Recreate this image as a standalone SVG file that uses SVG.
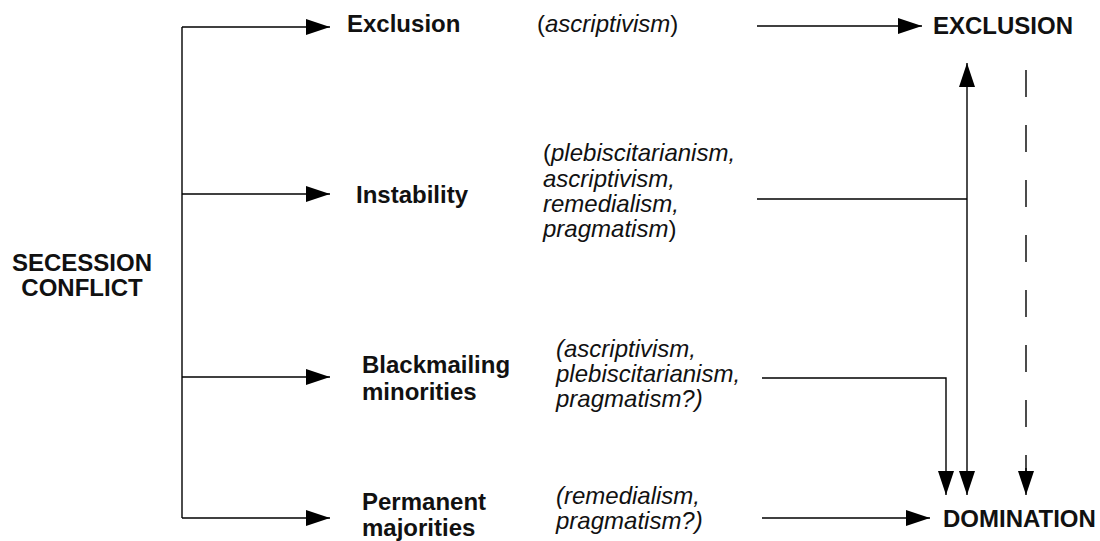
<svg xmlns="http://www.w3.org/2000/svg" width="1100" height="541" viewBox="0 0 1100 541">
<style>
.b{font-family:"Liberation Sans",Arial,sans-serif;font-weight:bold;font-size:24px;fill:#111}
.i{font-family:"Liberation Sans",Arial,sans-serif;font-style:italic;font-size:24px;fill:#111}
.u{font-style:normal}
.c{fill:none;stroke:#000;stroke-width:1.4}
.a{marker-end:url(#ah)}
</style>
<defs>
<marker id="ah" markerUnits="userSpaceOnUse" markerWidth="24" markerHeight="16" viewBox="0 0 24 16" refX="24" refY="8" orient="auto-start-reverse">
<path d="M0,0 L24,8 L0,16 z" fill="#000"/>
</marker>
</defs>
<rect width="1100" height="541" fill="#fff"/>
<g id="connectors">
<path class="c" d="M182,27 V518"/>
<path class="c a" d="M182,27 H330"/>
<path class="c a" d="M182,194 H330"/>
<path class="c a" d="M182,377 H330"/>
<path class="c a" d="M182,518 H330"/>
<path class="c a" d="M757,26 H922"/>
<path class="c" d="M757,199 H967"/>
<path class="c a" d="M967,495 V63" style="marker-start:url(#ah)"/>
<path class="c a" d="M762,378 H946 V495"/>
<path class="c" d="M1026,70 V472" stroke-dasharray="27 28"/>
<path class="c a" d="M1026,468 V495"/>
<path class="c a" d="M762,518 H930"/>
</g>
<g id="secession"><text class="b" x="82" y="271" text-anchor="middle">SECESSION</text><text class="b" x="82" y="296" text-anchor="middle">CONFLICT</text></g>
<g id="exclusion"><text class="b" x="347" y="32">Exclusion</text></g>
<g id="exclusion-arg"><text class="i" x="537" y="32"><tspan class="u">(</tspan>ascriptivism<tspan class="u">)</tspan></text></g>
<g id="EXCLUSION"><text class="b" x="933" y="34">EXCLUSION</text></g>
<g id="instability"><text class="b" x="356" y="203">Instability</text></g>
<g id="instability-arg">
<text class="i" x="543" y="161"><tspan class="u">(</tspan>plebiscitarianism,</text>
<text class="i" x="543" y="187">ascriptivism,</text>
<text class="i" x="543" y="212">remedialism,</text>
<text class="i" x="543" y="237">pragmatism<tspan class="u">)</tspan></text>
</g>
<g id="blackmailing"><text class="b" x="362" y="373">Blackmailing</text><text class="b" x="362" y="400">minorities</text></g>
<g id="blackmailing-arg">
<text class="i" x="556" y="357">(ascriptivism,</text>
<text class="i" x="556" y="382">plebiscitarianism,</text>
<text class="i" x="556" y="407">pragmatism?)</text>
</g>
<g id="permanent"><text class="b" x="362" y="510">Permanent</text><text class="b" x="362" y="536">majorities</text></g>
<g id="permanent-arg">
<text class="i" x="556" y="504">(remedialism,</text>
<text class="i" x="556" y="529">pragmatism?)</text>
</g>
<g id="DOMINATION"><text class="b" x="943" y="527">DOMINATION</text></g>
</svg>
